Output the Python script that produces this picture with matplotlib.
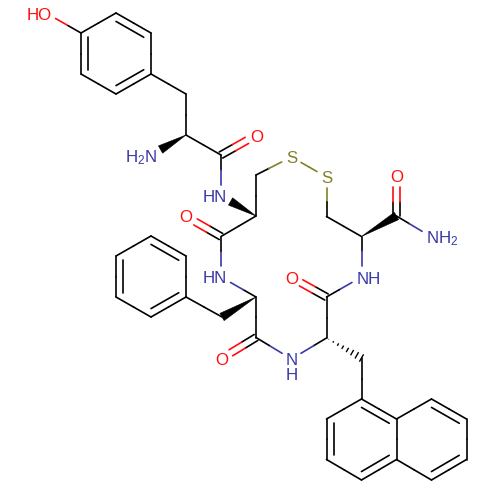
import numpy as np
import matplotlib
matplotlib.use("Agg")
import matplotlib.pyplot as plt

plt.rcParams['font.family'] = ['Liberation Sans', 'DejaVu Sans']
plt.rcParams['mathtext.fontset'] = 'custom'
plt.rcParams['mathtext.rm'] = 'Liberation Sans'
plt.rcParams['mathtext.default'] = 'regular'

# atoms, pixel positions
atom_names = ['O_oh', 'T1', 'T2', 'T3', 'T4', 'T5', 'T6', 'T_cb', 'T_ca', 'T_n', 'T_c', 'T_o',
              'N1', 'C1_ca', 'C1_cb', 'S1', 'S2', 'C2_cb', 'C2_ca', 'C2_c', 'C2_o', 'C2_n',
              'N_c', 'N_o', 'N_ca', 'N_cb', 'Na1', 'Na2', 'Na3', 'Na4', 'Na5', 'Na6',
              'Na7', 'Na8', 'Na9', 'Na10', 'N4', 'F_c', 'F_o', 'F_ca', 'F_cb',
              'P1', 'P2', 'P3', 'P4', 'P5', 'P6', 'N3', 'C1_c', 'C1_o', 'N2']
atom_x = [46, 81, 116, 151, 151, 116, 81, 186, 186, 151, 221, 256.5,
          221, 256, 256, 291.5, 326.5, 326.5, 361.5, 396.5, 396.5, 431.5,
          326.5, 291.5, 326.5, 361.5, 361.5, 396.5, 396.5, 361.5, 326.5, 326.5,
          431.5, 466.5, 466.5, 431.5, 291.5, 256, 221.5, 256, 222,
          186, 151, 116, 116, 151, 186, 221, 221, 186, 361.5]
atom_y = [13, 33, 13, 33, 74, 94, 74, 94, 135, 155, 155, 135,
          196, 216, 175, 157, 177, 216.5, 236.5, 216, 176, 237,
          297, 277.5, 338, 358, 399, 419, 459.5, 480, 459.5, 419,
          399, 419, 459.5, 480, 359, 337.5, 358.5, 297, 317,
          297, 317, 297, 256, 236, 256, 277, 236.5, 216.5, 277]
atom_colors = {'O_oh': '#FF0D0D', 'T_o': '#FF0D0D', 'C2_o': '#FF0D0D', 'N_o': '#FF0D0D',
               'F_o': '#FF0D0D', 'C1_o': '#FF0D0D',
               'T_n': '#3838A8', 'N1': '#3838A8', 'C2_n': '#3838A8', 'N2': '#3838A8',
               'N3': '#3838A8', 'N4': '#3838A8',
               'S1': '#80802A', 'S2': '#80802A'}

single_bonds = [('O_oh', 'T1'), ('T1', 'T2'), ('T3', 'T4'), ('T5', 'T6'), ('T4', 'T_cb'),
                ('T_cb', 'T_ca'), ('T_ca', 'T_c'), ('T_c', 'N1'), ('C1_ca', 'C1_cb'),
                ('C1_cb', 'S1'), ('S1', 'S2'), ('S2', 'C2_cb'), ('C2_cb', 'C2_ca'),
                ('C2_c', 'C2_n'), ('C2_ca', 'N2'), ('N2', 'N_c'), ('N_c', 'N_ca'),
                ('N_ca', 'N4'), ('N4', 'F_c'), ('F_c', 'F_ca'), ('F_ca', 'N3'),
                ('N3', 'C1_c'), ('C1_c', 'C1_ca'), ('N_cb', 'Na1'), ('Na2', 'Na3'),
                ('Na4', 'Na5'), ('Na6', 'Na1'), ('Na2', 'Na7'), ('Na8', 'Na9'),
                ('Na10', 'Na3'), ('F_cb', 'P1'), ('P1', 'P2'), ('P3', 'P4'), ('P5', 'P6'),
                ('P6', 'P1'), ('T2', 'T3'), ('T4', 'T5'), ('T6', 'T1'), ('Na1', 'Na2'),
                ('Na3', 'Na4'), ('Na5', 'Na6'), ('Na7', 'Na8'), ('Na9', 'Na10'),
                ('P2', 'P3'), ('P4', 'P5')]
carbonyl_bonds = [('T_c', 'T_o'), ('C2_c', 'C2_o'), ('N_c', 'N_o'), ('F_c', 'F_o'),
                  ('C1_c', 'C1_o')]
# second ring line: bond ends plus an atom on the inner side
ring_inner = [('T6', 'T1', 'T3'), ('T2', 'T3', 'T5'), ('T4', 'T5', 'T1'),
              ('P3', 'P4', 'P6'), ('P5', 'P6', 'P2'), ('P1', 'P2', 'P4'),
              ('Na5', 'Na6', 'Na2'), ('Na1', 'Na2', 'Na4'), ('Na3', 'Na4', 'Na6'),
              ('Na7', 'Na8', 'Na10'), ('Na9', 'Na10', 'Na8')]
wedges = [('T_ca', 'T_n'), ('C1_ca', 'N1'), ('F_ca', 'F_cb'), ('C2_ca', 'C2_c')]
hashes = [('N_ca', 'N_cb')]

labels = ['HO', 'H$_2$N', 'O', 'HN', 'O', 'S', 'S', 'O', 'NH$_2$', 'NH', 'O', 'HN', 'O', 'N', 'H']
label_x = [27, 125, 256.5, 203, 186, 291.5, 326.5, 396.5, 426.5, 356.5, 291.5, 203, 221.5, 292, 292]
label_y = [20, 162, 141.5, 201.5, 222.5, 163, 183, 182, 243, 284, 283.5, 283, 365, 365, 380]
label_ha = ['left', 'left', 'center', 'left', 'center', 'center', 'center', 'center', 'left',
            'left', 'center', 'left', 'center', 'center', 'center']
label_atoms = ['O_oh', 'T_n', 'T_o', 'N1', 'C1_o', 'S1', 'S2', 'C2_o', 'C2_n', 'N2',
               'N_o', 'N3', 'F_o', 'N4', 'N4']

pos = {n: np.array([x, y], dtype=float) for n, x, y in zip(atom_names, atom_x, atom_y)}
GAP = 11.0
LW = 1.2

fig = plt.figure(figsize=(5, 5), dpi=100)
ax = fig.add_axes([0, 0, 1, 1])
ax.set_xlim(0, 500)
ax.set_ylim(500, 0)
ax.axis('off')


def trimmed(a, b):
    p, q = pos[a].copy(), pos[b].copy()
    u = (q - p) / np.linalg.norm(q - p)
    if a in atom_colors:
        p = p + u * GAP
    if b in atom_colors:
        q = q - u * GAP
    return p, q


def draw_two_colour(p, q, a, b):
    mid = (p + q) / 2
    ax.plot([p[0], mid[0]], [p[1], mid[1]], color=atom_colors.get(a, 'black'), lw=LW,
            solid_capstyle='round')
    ax.plot([mid[0], q[0]], [mid[1], q[1]], color=atom_colors.get(b, 'black'), lw=LW,
            solid_capstyle='round')


for a, b in single_bonds:
    p, q = trimmed(a, b)
    draw_two_colour(p, q, a, b)

# C=O pairs sit either side of the bond axis
for a, b in carbonyl_bonds:
    p, q = trimmed(a, b)
    u = (q - p) / np.linalg.norm(q - p)
    n = np.array([-u[1], u[0]])
    for side in [-3.5, 3.5]:
        draw_two_colour(p + n * side, q + n * side, a, b)

for a, b, inner in ring_inner:
    p, q = pos[a], pos[b]
    u = (q - p) / np.linalg.norm(q - p)
    n = np.array([-u[1], u[0]])
    if np.dot(pos[inner] - p, n) < 0:
        n = -n
    s, e = p + n * 7.3 + u * 4.2, q + n * 7.3 - u * 4.2
    ax.plot([s[0], e[0]], [s[1], e[1]], color='black', lw=LW, solid_capstyle='round')

for a, b in wedges:
    p, q = trimmed(a, b)
    u = (q - p) / np.linalg.norm(q - p)
    n = np.array([-u[1], u[0]])
    pts = np.array([p, q + n * 4.2, q - n * 4.2])
    ax.fill(pts[:, 0], pts[:, 1], color='black', lw=0.4)

for a, b in hashes:
    p, q = trimmed(a, b)
    n = np.array([-(q - p)[1], (q - p)[0]]) / np.linalg.norm(q - p)
    for t in np.linspace(0.06, 1.0, 8):
        c = p + (q - p) * t
        w = 4.2 * t
        ax.plot([c[0] - n[0] * w, c[0] + n[0] * w], [c[1] - n[1] * w, c[1] + n[1] * w],
                color='black', lw=1.0, solid_capstyle='butt')

for txt, x, y, ha, at in zip(labels, label_x, label_y, label_ha, label_atoms):
    ax.text(x, y, txt, ha=ha, va='baseline', fontsize=12.2, color=atom_colors[at])

fig.savefig('out.png', dpi=100, facecolor='white')
